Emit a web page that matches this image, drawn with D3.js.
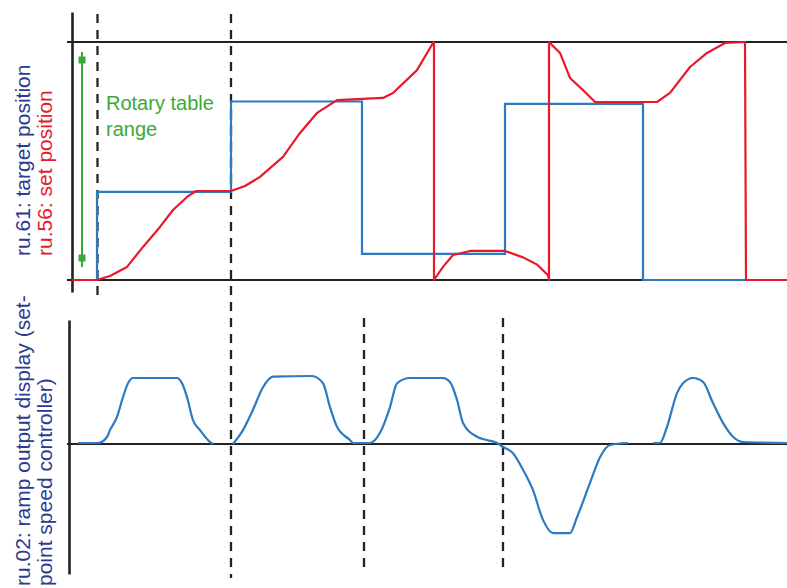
<!DOCTYPE html>
<html>
<head>
<meta charset="utf-8">
<script src="https://cdn.jsdelivr.net/npm/d3@7"></script>
<style>
  html, body { margin: 0; padding: 0; background: #fff; }
  svg { display: block; }
</style>
</head>
<body>
<svg id="chart" width="787" height="588"></svg>
<script>
// ---- DATA (time in arbitrary units, positions in % of rotary table range, speed in % of max) ----
const targetTime  = [25, 25, 159, 159, 290, 290, 433, 433, 571, 571, 675];
const targetValue = [0, 37, 37, 75, 75, 11, 11, 74, 74, 0, 0];

const setTime  = [0, 25, 38, 55, 71, 88, 101, 115, 124, 159, 173, 188, 211, 228, 245, 265, 311, 321, 345, 361, 362,
                  362, 371, 381, 398, 433, 451, 465, 476, 477, 477, 488, 498, 511, 523, 585, 598, 618, 635, 653, 673, 674, 715];
const setValue = [0, 0, 1.7, 5.5, 13.9, 22.3, 29.4, 34.9, 37.4, 37.4, 39.5, 43.3, 51.7, 61.8, 70.2, 75.6, 76.5, 78.6, 88.2, 99.6, 100,
                  0, 5.5, 10.5, 12.2, 12.2, 9.5, 6.5, 2, 0, 100, 95.4, 84.9, 79.8, 74.8, 74.8, 78.6, 89.5, 95.4, 99.6, 100, 0, 0];

const speedTime  = [6, 26, 35, 38, 45, 51, 56, 61, 105, 110, 115, 121, 128, 138, 141, null,
                    161, 171, 181, 191, 201, 240, 251, 258, 265, 278, 281, 298, 308, 318, 325, 338, 371, 378, 385, 391, 405, 415, 425,
                    431, 441, 451, 461, 471, 481, 498, 505, 518, 528, 538, 556, null,
                    581, 588, 595, 605, 611, 621, 631, 641, 651, 661, 671, 715];
const speedValue = [1.5, 1.5, 10.6, 21, 41, 71, 92, 100, 100, 92, 71, 36, 21, 3, 0, null,
                    0, 21, 52, 86, 102, 103, 92, 56, 26, 6, 1.5, 1.5, 17, 56, 92, 100, 100, 94, 67, 32, 11, 6, 1.5,
                    -4.5, -14, -39, -70, -115, -135, -135, -111, -59, -20, -1.5, 1.5, null,
                    1.5, 1.5, 26, 77, 92, 100, 94, 62, 32, 11, 3, 1.5];

const markerTimesTop    = [25, 159];
const markerTimesBottom = [161, 292, 431];

const labelTarget = "ru.61: target position";
const labelSet    = "ru.56: set position";
const labelSpeed1 = "ru.02: ramp output display (set-";
const labelSpeed2 = "point speed controller)";
const rangeText   = ["Rotary table", "range"];

// ---- SCALES ----
const svg = d3.select("#chart");
const x = d3.scaleLinear().domain([0, 715]).range([72, 787]);
const yPos = d3.scaleLinear().domain([0, 100]).range([280, 42]);
const ySpd = d3.scaleLinear().domain([0, 100]).range([444, 378]);

const BLUE = "#2b7ac2", RED = "#e8192c", GREEN = "#3aaa35", NAVY = "#2c3a8f", AX = "#222";

// ---- AXES (frame lines) ----
const topAxis = svg.append("g").attr("transform", `translate(0,${yPos(100)})`)
  .call(d3.axisBottom(x).tickValues([]).tickSizeOuter(0));
const botAxis = svg.append("g").attr("transform", `translate(0,${yPos(0)})`)
  .call(d3.axisBottom(x).tickValues([]).tickSizeOuter(0));
const spdAxis = svg.append("g").attr("transform", `translate(0,${ySpd(0)})`)
  .call(d3.axisBottom(x).tickValues([]).tickSizeOuter(0));
[topAxis, botAxis, spdAxis].forEach(g => g.select(".domain")
  .attr("d", `M${x(-5)},0H${x(715)}`).attr("stroke", AX).attr("stroke-width", 2.2));

// vertical axes
const yAxTop = d3.scaleLinear().domain([0, 1]).range([292, 12]);
svg.append("g").attr("transform", `translate(${x(0)},0)`)
  .call(d3.axisLeft(yAxTop).tickValues([]).tickSizeOuter(0))
  .select(".domain").attr("stroke", AX).attr("stroke-width", 2.6);
const yAxBot = d3.scaleLinear().domain([0, 1]).range([574, 320]);
svg.append("g").attr("transform", `translate(${x(-3)},0)`)
  .call(d3.axisLeft(yAxBot).tickValues([]).tickSizeOuter(0))
  .select(".domain").attr("stroke", AX).attr("stroke-width", 2.6);

// ---- dashed markers ----
const dash = svg.append("g").attr("stroke", "#222").attr("stroke-width", 2.3).attr("stroke-dasharray", "9,7");
dash.append("line").attr("x1", x(markerTimesTop[0]) + 0.5).attr("x2", x(markerTimesTop[0]) + 0.5).attr("y1", 14).attr("y2", 298);
dash.append("line").attr("x1", x(markerTimesTop[1])).attr("x2", x(markerTimesTop[1])).attr("y1", 14).attr("y2", 578);
markerTimesBottom.slice(1).forEach(t => {
  dash.append("line").attr("x1", x(t)).attr("x2", x(t)).attr("y1", 318).attr("y2", 568);
});

// ---- lines ----
const posLine = d3.line().x(d => x(d[0])).y(d => yPos(d[1]));
const targetData = targetTime.map((t, i) => [t, targetValue[i]]);
const setData = setTime.map((t, i) => [t, setValue[i]]);

svg.append("path").datum(targetData).attr("d", posLine)
  .attr("fill", "none").attr("stroke", BLUE).attr("stroke-width", 2.2);
svg.append("path").datum(setData).attr("d", posLine)
  .attr("fill", "none").attr("stroke", RED).attr("stroke-width", 2.2).attr("stroke-linejoin", "round");

const spdData = speedTime.map((t, i) => [t, speedValue[i]]);
const spdLine = d3.line().defined(d => d[0] !== null).curve(d3.curveMonotoneX)
  .x(d => x(d[0])).y(d => ySpd(d[1]));
svg.append("path").datum(spdData).attr("d", spdLine)
  .attr("fill", "none").attr("stroke", BLUE).attr("stroke-width", 2.2).attr("stroke-linejoin", "round");

// ---- green range arrow ----
const gx = 82;
const g = svg.append("g");
g.append("line").attr("x1", gx).attr("x2", gx).attr("y1", 52).attr("y2", 267)
  .attr("stroke", GREEN).attr("stroke-width", 2);
[60, 258].forEach(yy => g.append("rect").attr("x", gx - 3.5).attr("y", yy - 3.5)
  .attr("width", 7).attr("height", 7).attr("fill", GREEN));

const rt = svg.append("text").attr("x", 106).attr("y", 110)
  .attr("font-family", "Liberation Sans, Arial, sans-serif").attr("font-size", 20).attr("fill", GREEN);
rt.append("tspan").attr("x", 106).attr("dy", 0).text(rangeText[0]);
rt.append("tspan").attr("x", 106).attr("dy", 26).text(rangeText[1]);

// ---- rotated labels ----
function vlabel(txt, xx, yy, color) {
  svg.append("text").attr("transform", `translate(${xx},${yy}) rotate(-90)`)
    .attr("font-family", "Liberation Sans, Arial, sans-serif").attr("font-size", 21)
    .attr("fill", color).attr("text-anchor", "start").text(txt);
}
vlabel(labelTarget, 30, 256, NAVY);
vlabel(labelSet, 52, 256, RED);
vlabel(labelSpeed1, 30, 586, NAVY);
vlabel(labelSpeed2, 52, 586, NAVY);
</script>
</body>
</html>
